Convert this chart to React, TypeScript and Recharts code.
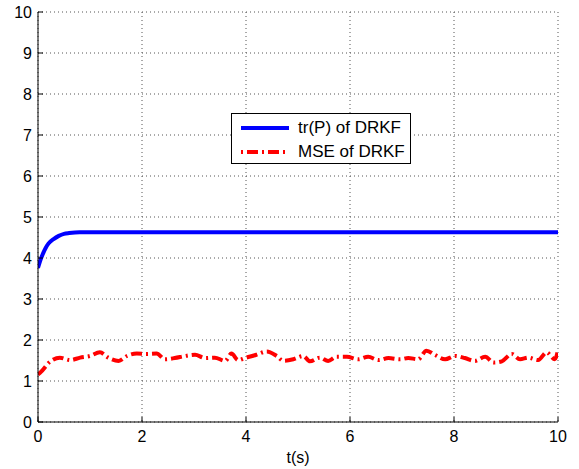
import { LineChart, Line, XAxis, YAxis, CartesianGrid, Legend } from 'recharts';

// tr(P) of DRKF: fast rise then flat
const trTime = [0, 0.05, 0.1, 0.15, 0.2, 0.3, 0.4, 0.5, 0.6, 0.8, 1, 2, 4, 6, 8, 10];
const trValues = [3.76, 3.96, 4.12, 4.25, 4.35, 4.46, 4.54, 4.59, 4.61, 4.63, 4.63, 4.63, 4.63, 4.63, 4.63, 4.63];

// MSE of DRKF: noisy around 1.6
const mseTime = [
  0, 0.04, 0.23, 0.42, 0.62, 0.81, 1.0, 1.19, 1.35, 1.55, 1.71, 1.9, 2.09, 2.28, 2.44, 2.63, 2.83,
  3.02, 3.21, 3.4, 3.6, 3.72, 3.85, 3.98, 4.2, 4.4, 4.59, 4.72, 4.91, 5.1, 5.23, 5.42, 5.58, 5.74,
  5.94, 6.16, 6.35, 6.55, 6.74, 6.96, 7.12, 7.31, 7.47, 7.63, 7.83, 8.02, 8.21, 8.4, 8.6, 8.76,
  8.92, 9.11, 9.27, 9.43, 9.62, 9.78, 9.94, 10,
];
const mseValues = [
  1.16, 1.2, 1.47, 1.57, 1.51, 1.57, 1.61, 1.7, 1.57, 1.49, 1.61, 1.67, 1.66, 1.67, 1.53, 1.56, 1.61,
  1.64, 1.56, 1.57, 1.49, 1.67, 1.51, 1.56, 1.64, 1.72, 1.61, 1.49, 1.53, 1.61, 1.48, 1.57, 1.49, 1.59,
  1.59, 1.53, 1.59, 1.51, 1.56, 1.53, 1.56, 1.53, 1.74, 1.64, 1.53, 1.61, 1.56, 1.49, 1.59, 1.45,
  1.48, 1.66, 1.53, 1.57, 1.51, 1.7, 1.53, 1.75,
];

const xTicks = [0, 2, 4, 6, 8, 10];
const yTicks = [0, 1, 2, 3, 4, 5, 6, 7, 8, 9, 10];

const seriesNames = ['tr(P) of DRKF', 'MSE of DRKF'];

const trData = trTime.map((t, i) => ({ t, v: trValues[i] }));
const mseData = mseTime.map((t, i) => ({ t, v: mseValues[i] }));

const FONT = '"Liberation Sans", Arial, Helvetica, sans-serif';
const tickStyle = { fontSize: 16, fill: '#000', fontFamily: FONT };

const LegendBox = () => (
  <div
    style={{
      width: 180,
      height: 51,
      boxSizing: 'border-box',
      border: '1.5px solid #000',
      background: '#fff',
      fontFamily: FONT,
      fontSize: 17,
      color: '#000',
      paddingTop: 2,
    }}
  >
    <div style={{ display: 'flex', alignItems: 'center', height: 24 }}>
      <svg width={60} height={10} style={{ marginLeft: 6 }}>
        <line x1={3} y1={5} x2={51} y2={5} stroke="#0000ff" strokeWidth={4} />
      </svg>
      <span>{seriesNames[0]}</span>
    </div>
    <div style={{ display: 'flex', alignItems: 'center', height: 24 }}>
      <svg width={60} height={10} style={{ marginLeft: 6 }}>
        <line x1={3} y1={5} x2={51} y2={5} stroke="#ff0000" strokeWidth={4} strokeDasharray="2 4 11 4" />
      </svg>
      <span>{seriesNames[1]}</span>
    </div>
  </div>
);

export default function App() {
  return (
    <div style={{ position: 'absolute', left: 0, top: 0, background: '#fff' }}>
      <LineChart width={579} height={469} margin={{ top: 12, right: 21, bottom: 2, left: 8 }}>
        <CartesianGrid stroke="#555" strokeDasharray="1 3" strokeWidth={1} />
        <XAxis
          dataKey="t"
          type="number"
          domain={[0, 10]}
          ticks={xTicks}
          allowDataOverflow
          height={45}
          tickSize={-5}
          tickMargin={14}
          stroke="#000"
          tick={tickStyle}
          label={{ value: 't(s)', position: 'insideBottom', offset: 4, style: { ...tickStyle, fill: '#000' } }}
        />
        <XAxis
          xAxisId="top"
          orientation="top"
          dataKey="t"
          type="number"
          domain={[0, 10]}
          ticks={xTicks}
          height={0}
          tickSize={-5}
          tick={false}
          stroke="#000"
        />
        <YAxis
          type="number"
          domain={[0, 10]}
          ticks={yTicks}
          allowDataOverflow
          width={30}
          tickSize={-5}
          tickMargin={11}
          stroke="#000"
          tick={tickStyle}
        />
        <YAxis
          yAxisId="right"
          orientation="right"
          type="number"
          domain={[0, 10]}
          ticks={yTicks}
          width={0}
          tickSize={-5}
          tick={false}
          stroke="#000"
        />
        <Legend
          layout="vertical"
          align="center"
          verticalAlign="middle"
          wrapperStyle={{ left: 231, top: 113, width: 180 }}
          content={() => <LegendBox />}
        />
        <Line
          data={trData}
          dataKey="v"
          name={seriesNames[0]}
          type="monotone"
          stroke="#0000ff"
          strokeWidth={4}
          dot={false}
          isAnimationActive={false}
        />
        <Line
          data={mseData}
          dataKey="v"
          name={seriesNames[1]}
          type="monotone"
          stroke="#ff0000"
          strokeWidth={4}
          strokeDasharray="11 4 2 4"
          dot={false}
          isAnimationActive={false}
        />
      </LineChart>
    </div>
  );
}
